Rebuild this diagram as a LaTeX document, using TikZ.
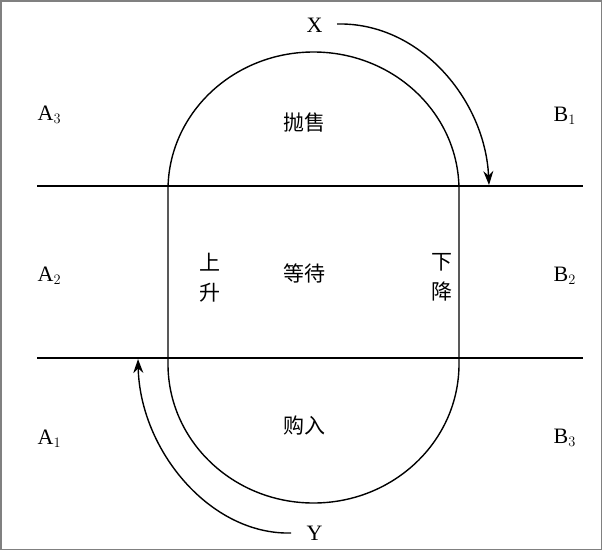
\documentclass[tikz,border=0pt]{standalone}
\usepackage{fontspec}
\setmainfont{Liberation Serif}
\newfontfamily\cjk{Noto Sans CJK SC}
\usetikzlibrary{arrows.meta}

\begin{document}
\begin{tikzpicture}[x=1pt, y=-1pt, line width=1.4pt,
	lbl/.style={anchor=base west, inner sep=0pt, font=\fontsize{22}{26}\selectfont},
	zone/.style={inner sep=0pt, font=\cjk\fontsize{21}{30}\selectfont, align=center},
	move/.style={-{Stealth[length=14pt, width=10pt]}}]
	\useasboundingbox (0,0) rectangle (602,550);
	\draw [gray, line width=1.5pt] (0.75,0.75) rectangle (601.25,549.25);

	\coordinate (U1) at (37,186);
	\coordinate (U2) at (583,186);
	\coordinate (D1) at (37,358);
	\coordinate (D2) at (583,358);

	\draw [line width=1.8pt] (U1) -- (U2);
	\draw [line width=1.8pt] (D1) -- (D2);

	% the loop
	\draw (168,190) .. controls (168,113.8) and (233.1,52) .. (313.5,52)
		.. controls (393.9,52) and (459,113.8) .. (459,190)
		-- (459,364)
		.. controls (459,440.8) and (393.9,503) .. (313.5,503)
		.. controls (233.1,503) and (168,440.8) .. (168,364) -- cycle;

	\node [zone] (sell) at (304,123) {抛售};
	\node [zone] (wait) at (304,273) {等待};
	\node [zone] (buy) at (304,426) {购入};
	\node [zone] (rise) at (210,278) {上\\升};
	\node [zone] (fall) at (442,277) {下\\降};

	\node [lbl] (A3) at (37,120) {A$_3$};
	\node [lbl] (A2) at (37,281) {A$_2$};
	\node [lbl] (A1) at (37,444) {A$_1$};
	\node [lbl] (B1) at (553,121) {B$_1$};
	\node [lbl] (B2) at (553,281) {B$_2$};
	\node [lbl] (B3) at (553,443) {B$_3$};

	\node [lbl] (X) at (306,32) {X};
	\node [lbl] (Y) at (306,540) {Y};

	\coordinate (Xs) at (337,24);
	\coordinate (Xe) at (489,185);
	\coordinate (Ys) at (291,533);
	\coordinate (Ye) at (138,359);
	\draw [move] (Xs) .. controls (420,22) and (485,100) .. (Xe);
	\draw [move] (Ys) .. controls (210,535) and (140,450) .. (Ye);
\end{tikzpicture}
\end{document}
